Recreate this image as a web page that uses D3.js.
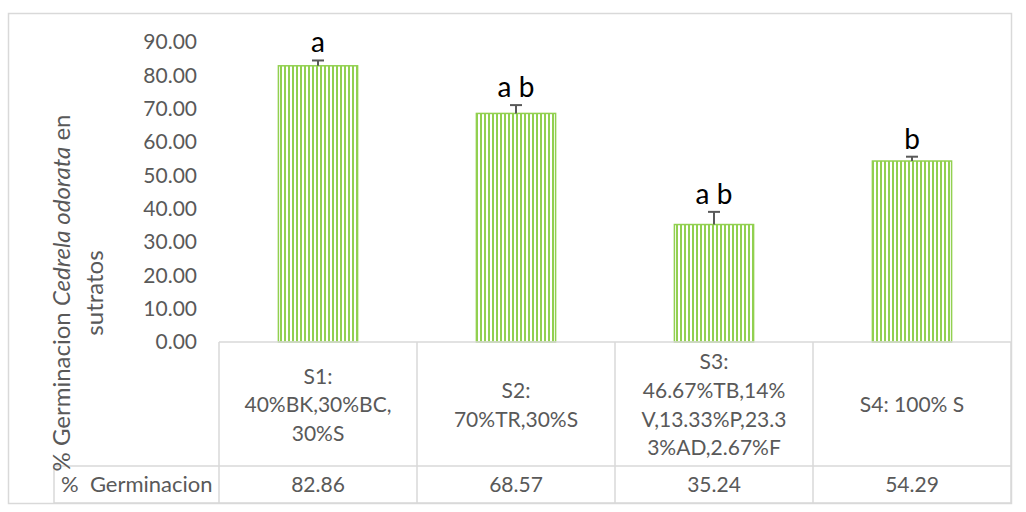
<!DOCTYPE html>
<html>
<head>
<meta charset="utf-8">
<script src="https://cdn.jsdelivr.net/npm/d3@7"></script>
<style>
  html, body { margin: 0; padding: 0; background: #fff; }
  svg { display: block; font-family: Lato, "Noto Sans", sans-serif; }
</style>
</head>
<body>
<svg id="chart" width="1026" height="512"></svg>
<script>
// ---- data ----
const categories = ["S1", "S2", "S3", "S4"];
const categoryLines = [
  ["S1:", "40%BK,30%BC,", "30%S"],
  ["S2:", "70%TR,30%S"],
  ["S3:", "46.67%TB,14%", "V,13.33%P,23.3", "3%AD,2.67%F"],
  ["S4: 100% S"]
];
const germination = [82.86, 68.57, 35.24, 54.29];
const errors = [1.6, 2.5, 3.8, 1.3];
const letters = ["a", "a b", "a b", "b"];
const yTicks = [0, 10, 20, 30, 40, 50, 60, 70, 80, 90];
const rowHeader = "%  Germinacion";
const yTitleLines = [["% Germinacion ", "Cedrela odorata", " en"], ["sutratos"]];

// ---- layout ----
const svg = d3.select("#chart");
const green = "#92d050";
const grid = "#d9d9d9";
const textCol = "#595959";

const plotLeft = 219, plotRight = 1011, plotTop = 42, plotBottom = 342;
const tableMid = 466, tableBottom = 503, tableLeft = 54;

// outer border
svg.append("rect").attr("x", 8.5).attr("y", 13.5).attr("width", 1003).attr("height", 490)
  .attr("fill", "#fff").attr("stroke", grid).attr("stroke-width", 1.5);

const x = d3.scaleBand().domain(categories).range([plotLeft, plotRight]).paddingInner(0).paddingOuter(0);
const y = d3.scaleLinear().domain([0, 90]).range([plotBottom, plotTop]);

// pattern
const defs = svg.append("defs");
const pat = defs.append("pattern").attr("id", "vstripes").attr("patternUnits", "userSpaceOnUse")
  .attr("width", 4).attr("height", 4);
pat.append("rect").attr("width", 4).attr("height", 4).attr("fill", "#fff");
pat.append("rect").attr("x", 0).attr("width", 2).attr("height", 4).attr("fill", green);

// y axis
const yAxis = d3.axisLeft(y).tickValues(yTicks).tickFormat(d3.format(".2f")).tickSize(0).tickPadding(22);
const gy = svg.append("g").attr("transform", `translate(${plotLeft},0)`).call(yAxis);
gy.select(".domain").remove();
gy.selectAll("text").attr("fill", textCol).style("font-size", "21px").style("font-family", "Lato, 'Noto Sans', sans-serif");

// bars
const bw = x.bandwidth() * 0.4;
svg.append("g").selectAll("rect").data(categories).join("rect")
  .attr("x", d => x(d) + (x.bandwidth() - bw) / 2)
  .attr("y", (d, i) => y(germination[i]))
  .attr("width", bw)
  .attr("height", (d, i) => y(0) - y(germination[i]))
  .attr("fill", "url(#vstripes)")
  .attr("stroke", green).attr("stroke-width", 1.5);

// error bars
const eg = svg.append("g").attr("stroke", "#595959").attr("stroke-width", 2);
categories.forEach((c, i) => {
  const cx = x(c) + x.bandwidth() / 2;
  const y0 = y(germination[i]), y1 = y(germination[i] + errors[i]);
  eg.append("line").attr("x1", cx).attr("x2", cx).attr("y1", y0).attr("y2", y1);
  eg.append("line").attr("x1", cx - 6).attr("x2", cx + 6).attr("y1", y1).attr("y2", y1);
});

// significance letters above the error bars
svg.append("g").selectAll("text").data(categories).join("text")
  .attr("x", d => x(d) + x.bandwidth() / 2)
  .attr("y", (d, i) => y(germination[i] + errors[i]) - 8)
  .attr("text-anchor", "middle")
  .attr("fill", "#000").style("font-size", "28px")
  .text((d, i) => letters[i]);

// data table
const tg = svg.append("g").attr("stroke", grid).attr("stroke-width", 1.5).attr("fill", "none");
tg.append("line").attr("x1", plotLeft).attr("x2", plotRight).attr("y1", plotBottom).attr("y2", plotBottom);
tg.append("line").attr("x1", tableLeft).attr("x2", plotRight).attr("y1", tableMid).attr("y2", tableMid);
tg.append("line").attr("x1", tableLeft).attr("x2", plotRight).attr("y1", tableBottom).attr("y2", tableBottom);
tg.append("line").attr("x1", tableLeft).attr("x2", tableLeft).attr("y1", tableMid).attr("y2", tableBottom);
categories.forEach(c => {
  tg.append("line").attr("x1", x(c)).attr("x2", x(c)).attr("y1", plotBottom).attr("y2", tableBottom);
});
tg.append("line").attr("x1", plotRight).attr("x2", plotRight).attr("y1", plotBottom).attr("y2", tableBottom);

// category labels
const lh = 28.7;
const catCenter = (plotBottom + tableMid) / 2 + 1;
categories.forEach((c, i) => {
  const lines = categoryLines[i];
  const t = svg.append("text").attr("text-anchor", "middle").attr("fill", textCol).style("font-size", "21px");
  const startY = catCenter - (lines.length - 1) * lh / 2;
  lines.forEach((ln, j) => {
    t.append("tspan").attr("x", x(c) + x.bandwidth() / 2).attr("y", startY + j * lh).attr("dy", "0.35em").text(ln);
  });
});

// values row
const rowCenter = (tableMid + tableBottom) / 2;
svg.append("g").selectAll("text").data(categories).join("text")
  .attr("x", d => x(d) + x.bandwidth() / 2).attr("y", rowCenter).attr("dy", "0.35em")
  .attr("text-anchor", "middle").attr("fill", textCol).style("font-size", "21px")
  .text((d, i) => d3.format(".2f")(germination[i]));
svg.append("text").attr("x", 61).attr("y", rowCenter).attr("dy", "0.35em")
  .attr("fill", textCol).style("font-size", "22px").style("white-space", "pre").attr("xml:space", "preserve")
  .text(rowHeader);

// y title
const titleCY = 293;
const tt = svg.append("text").attr("transform", `translate(62,${titleCY}) rotate(-90)`)
  .attr("text-anchor", "middle").attr("fill", textCol).style("font-size", "24px");
const line1 = tt.append("tspan").attr("x", 0).attr("y", 0).attr("dy", "0.35em");
yTitleLines[0].forEach((s, k) => {
  line1.append("tspan").style("font-style", k === 1 ? "italic" : "normal").text(s);
});
tt.append("tspan").attr("x", 0).attr("y", 33).attr("dy", "0.35em").text(yTitleLines[1][0]);
</script>
</body>
</html>
